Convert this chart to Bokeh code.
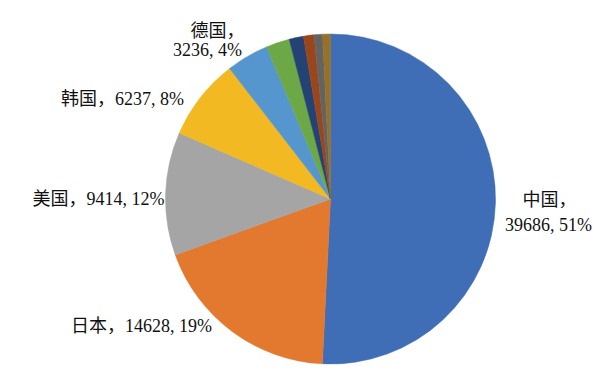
import math
from bokeh.plotting import figure
from bokeh.models import Range1d, ColumnDataSource
from bokeh.core.properties import value
from bokeh.embed import file_html
from bokeh.resources import INLINE

# ---- data ----
countries = ["中国", "日本", "美国", "韩国", "德国", "其他1", "其他2", "其他3", "其他4", "其他5"]
amounts = [39686, 14628, 9414, 6237, 3236, 1800, 1100, 800, 650, 600]
colors = ["#3F6DB6", "#E3792F", "#A5A5A5", "#F3B922", "#5696CF",
          "#6CA845", "#254274", "#9A461A", "#636363", "#957129"]
label_lines = [
    ["中国，", "39686, 51%"],
    ["日本，14628, 19%"],
    ["美国，9414, 12%"],
    ["韩国，6237, 8%"],
    ["德国，", "3236, 4%"],
]

# ---- layout ----
W, H = 602, 384
cx, cy, R = 330, 198.5, 165
# label anchor positions (screen px) per line
label_pos = [
    [(549, 199), (548, 224)],
    [(141, 325)],
    [(98, 198)],
    [(122, 98)],
    [(217, 30), (207, 49)],
]

total = float(sum(amounts))
starts, ends = [], []
acc = 0.0
for a in amounts:
    starts.append(math.pi / 2 - acc / total * 2 * math.pi)
    acc += a
    ends.append(math.pi / 2 - acc / total * 2 * math.pi)

src = ColumnDataSource(dict(x=[cx] * len(amounts), y=[cy] * len(amounts),
                            start=starts, end=ends, color=colors))

p = figure(width=W, height=H, output_backend="svg", toolbar_location=None,
           x_range=Range1d(0, W), y_range=Range1d(H, 0), min_border=0)
p.axis.visible = False
p.grid.visible = False
p.outline_line_color = None
p.background_fill_color = "white"

p.wedge(x="x", y="y", radius=R, radius_units="screen", start_angle="start",
        end_angle="end", direction="clock", fill_color="color",
        line_color="color", line_width=0.5, source=src)

tx, ty, tt = [], [], []
for lines, poss in zip(label_lines, label_pos):
    for t, (x, y) in zip(lines, poss):
        tx.append(x); ty.append(y); tt.append(t)

p.text(x=tx, y=ty, text=tt, text_align="center", text_baseline="middle",
       text_font=value("'Liberation Serif', 'Noto Sans CJK SC'"),
       text_font_size="18px", text_color="#111111")

open("out.html", "w").write(file_html(p, INLINE))
